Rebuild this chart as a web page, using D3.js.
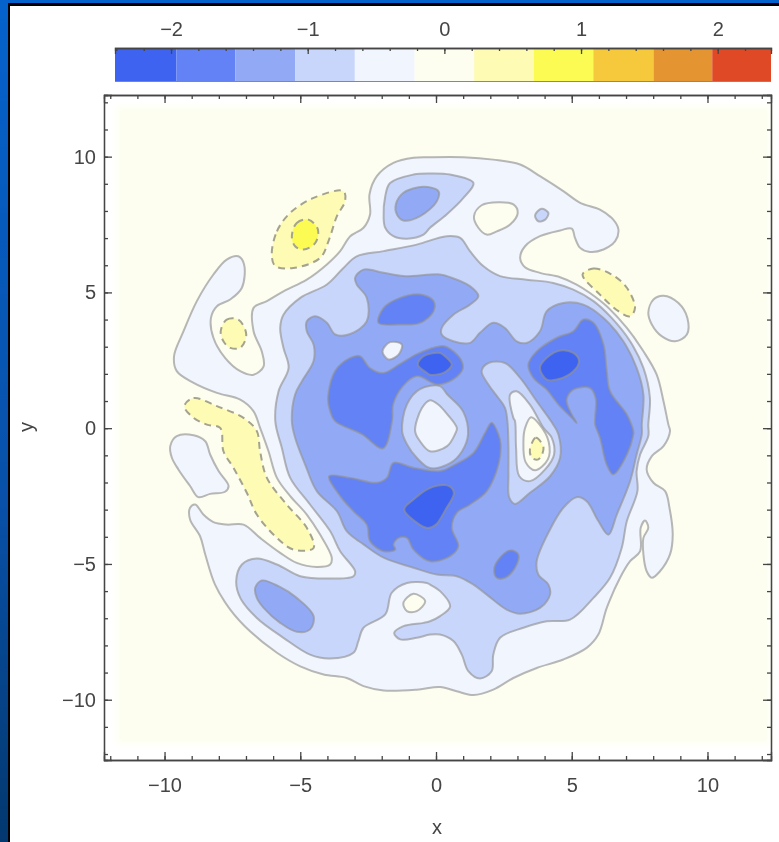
<!DOCTYPE html>
<meta charset="utf-8">
<style>
body { margin: 0; background: #fff; }
svg { display: block; }
text { font-family: "Liberation Sans", sans-serif; fill: #444; }
.axis path { stroke: #444; stroke-width: 1.3; }
.axis line { stroke: #444; stroke-width: 1.3; }
.axis text { font-size: 20px; }
</style>
<svg width="779" height="842"></svg>
<script src="https://d3js.org/d3.v7.min.js"></script>
<script>

// colour bar
var barThresholds = [-1.96, -1.53, -1.09, -0.655, -0.218, 0.218, 0.655, 1.09, 1.53, 1.96];
var barColors = ["#3e64f0", "#6282f6", "#92aaf6", "#c8d6fb", "#f1f5fe", "#fdfef0", "#fdfbb4", "#fbfb52", "#f6c93c", "#e59432", "#e04a28"];
var barTicks = [-2, -1, 0, 1, 2];
var barMinorTicks = d3.range(-24, 24, 2).map(function(d) { return d / 10; });
var plotTicks = [-10, -5, 0, 5, 10];
var plotMinorTicks = d3.range(-12, 13);

// contour outlines in x,y units
var outerBand = [[-0.22,9.98],[1.01,9.98],[2.11,9.89],[3.10,9.71],[3.83,9.28],[4.69,8.73],[5.31,8.30],[6.04,8.05],[6.53,7.68],[6.72,7.32],[6.60,6.89],[6.17,6.58],[5.67,6.49],[5.31,6.64],[5.12,7.01],[5.00,7.35],[4.57,7.28],[3.83,7.07],[3.28,6.70],[3.10,6.27],[3.28,5.93],[3.83,5.72],[4.57,5.56],[5.18,5.29],[5.67,4.98],[6.29,4.49],[7.03,3.69],[7.64,2.83],[8.13,1.97],[8.38,0.99],[8.56,0.13],[8.62,-0.11],[8.38,-0.66],[7.95,-1.03],[7.76,-1.52],[8.01,-2.01],[8.44,-2.32],[8.60,-2.93],[8.72,-3.92],[8.62,-4.65],[8.25,-5.27],[7.95,-5.51],[7.76,-5.27],[7.64,-4.65],[7.64,-4.04],[7.82,-3.67],[7.70,-3.40],[7.54,-3.67],[7.52,-4.53],[7.15,-4.90],[6.78,-5.51],[6.29,-6.62],[5.98,-7.60],[5.55,-8.09],[4.69,-8.52],[3.71,-8.83],[2.85,-9.20],[2.11,-9.63],[1.38,-9.83],[0.76,-9.69],[0.15,-9.53],[-0.71,-9.63],[-1.93,-9.66],[-2.67,-9.50],[-3.29,-9.20],[-4.14,-9.07],[-5.00,-8.77],[-5.86,-8.27],[-6.85,-7.48],[-7.58,-6.68],[-8.14,-5.76],[-8.50,-4.65],[-8.69,-3.98],[-9.06,-3.36],[-9.06,-2.93],[-8.87,-2.81],[-8.57,-3.18],[-8.20,-3.46],[-7.71,-3.55],[-7.09,-3.55],[-6.48,-4.04],[-5.74,-4.59],[-5.13,-4.96],[-4.39,-5.11],[-3.90,-5.02],[-3.84,-4.77],[-4.27,-3.92],[-4.76,-3.18],[-5.37,-2.50],[-5.86,-1.83],[-6.17,-0.85],[-6.48,0.01],[-6.72,0.62],[-7.21,1.05],[-8.07,1.30],[-8.93,1.67],[-9.55,2.10],[-9.65,2.65],[-9.30,3.57],[-8.81,4.68],[-8.20,5.66],[-7.71,6.21],[-7.28,6.33],[-7.07,6.03],[-7.15,5.17],[-7.58,4.74],[-8.07,4.49],[-8.29,4.06],[-8.20,3.33],[-7.77,2.59],[-7.21,2.10],[-6.72,1.97],[-6.35,2.28],[-6.42,2.83],[-6.72,3.57],[-6.72,4.43],[-6.23,4.68],[-5.62,5.04],[-4.76,5.47],[-4.02,6.03],[-3.53,6.52],[-3.16,7.07],[-2.67,7.38],[-2.43,7.87],[-2.45,8.61],[-2.18,9.28],[-1.57,9.77],[-0.83,9.96]];
var leftIsland = [[-9.79,-0.66],[-9.55,-0.29],[-8.93,-0.26],[-8.50,-0.48],[-8.32,-0.97],[-8.01,-1.58],[-7.64,-2.13],[-7.77,-2.34],[-8.32,-2.42],[-8.75,-2.54],[-9.06,-2.13],[-9.49,-1.52],[-9.73,-1.09]];
var rightIsland = [[7.82,4.25],[8.01,4.74],[8.38,4.88],[8.93,4.61],[9.26,4.06],[9.24,3.45],[8.81,3.20],[8.31,3.39],[7.95,3.82]];
var topHole = [[1.40,7.81],[1.68,8.21],[2.30,8.32],[2.85,8.24],[3.01,7.93],[2.73,7.50],[2.24,7.25],[1.87,7.13],[1.56,7.38]];
var topDot = [[3.65,7.84],[3.89,8.08],[4.14,7.93],[4.02,7.68],[3.77,7.62]];
var topLobeOuter = [[-1.93,7.75],[-1.87,8.54],[-1.69,9.03],[-0.83,9.34],[-0.22,9.38],[0.52,9.34],[1.38,9.03],[1.01,8.48],[0.39,7.87],[-0.22,7.38],[-0.46,7.13],[-1.07,6.98],[-1.57,7.07],[-1.87,7.38]];
var topLobeInner = [[-1.48,8.24],[-1.20,8.67],[-0.46,8.89],[0.09,8.73],[0.03,8.36],[-0.58,7.81],[-1.20,7.65],[-1.44,7.87]];
var mainOuter = [[-0.71,6.76],[0.39,7.07],[0.89,7.01],[1.25,6.52],[1.74,5.97],[2.36,5.60],[3.34,5.47],[4.32,5.35],[5.06,5.10],[5.80,4.68],[6.47,4.06],[7.15,3.20],[7.64,2.22],[7.88,1.11],[7.82,0.13],[7.82,-0.29],[7.52,-0.97],[7.39,-1.58],[7.42,-2.32],[7.03,-3.42],[6.84,-4.41],[6.41,-5.51],[5.80,-6.25],[4.94,-7.05],[4.08,-7.11],[3.22,-7.35],[2.36,-7.72],[2.11,-8.34],[2.05,-8.95],[1.62,-9.22],[1.19,-8.95],[0.95,-8.34],[0.64,-7.84],[0.15,-7.60],[-0.22,-7.60],[-0.71,-7.72],[-1.32,-7.78],[-1.54,-7.54],[-1.20,-7.29],[-0.46,-7.17],[-0.22,-7.11],[0.15,-6.92],[0.52,-6.56],[0.15,-6.00],[-0.22,-5.76],[-0.34,-5.70],[-1.07,-5.70],[-1.63,-6.06],[-1.87,-6.86],[-2.67,-7.35],[-2.86,-7.84],[-3.04,-8.27],[-3.90,-8.48],[-4.64,-8.34],[-5.62,-7.72],[-6.60,-6.99],[-7.21,-6.25],[-7.36,-5.63],[-7.15,-5.02],[-6.60,-4.80],[-5.86,-5.02],[-5.00,-5.45],[-4.02,-5.54],[-3.04,-5.45],[-2.98,-5.27],[-3.53,-4.53],[-3.90,-3.79],[-4.64,-2.81],[-5.37,-1.83],[-5.68,-0.72],[-5.92,0.26],[-5.80,1.36],[-5.43,2.22],[-5.62,2.96],[-5.74,3.69],[-5.62,4.18],[-5.00,4.80],[-4.02,5.29],[-3.41,5.90],[-2.92,6.33],[-1.93,6.52]];
var lowerLobe = [[-6.66,-5.88],[-6.42,-5.61],[-5.80,-5.82],[-5.13,-6.25],[-4.51,-6.92],[-4.64,-7.41],[-5.13,-7.50],[-5.74,-7.17],[-6.35,-6.62],[-6.60,-6.25]];
var mainMiddle = [[-2.98,5.54],[-2.67,5.84],[-1.93,5.72],[-1.20,5.60],[0.15,5.66],[0.52,5.56],[1.25,5.23],[1.56,4.86],[1.25,4.55],[0.64,4.18],[0.21,3.69],[0.21,3.45],[0.64,3.20],[1.25,3.14],[1.62,3.51],[2.11,3.88],[2.54,3.69],[2.97,3.20],[3.34,3.14],[3.83,3.57],[4.08,4.31],[4.69,4.61],[5.43,4.55],[6.17,4.06],[6.90,3.20],[7.39,2.22],[7.64,1.24],[7.58,0.13],[7.58,-0.23],[7.39,-0.97],[7.15,-1.95],[6.66,-3.18],[6.35,-3.92],[5.98,-3.42],[5.55,-2.69],[5.18,-2.54],[4.69,-2.93],[4.20,-3.73],[3.71,-4.90],[3.77,-5.39],[4.14,-5.76],[4.20,-6.13],[3.83,-6.62],[3.10,-6.83],[2.60,-6.68],[1.87,-6.13],[1.38,-5.76],[0.76,-5.45],[0.03,-5.39],[-0.83,-5.14],[-1.93,-4.77],[-2.67,-4.28],[-3.29,-3.79],[-3.65,-3.06],[-4.39,-2.32],[-4.82,-1.34],[-5.19,-0.35],[-5.31,0.26],[-5.19,1.24],[-4.94,1.73],[-4.51,2.47],[-4.51,3.08],[-4.76,3.57],[-4.76,3.94],[-4.45,4.12],[-4.02,3.88],[-3.71,3.45],[-3.16,3.47],[-2.55,3.94],[-2.55,4.80],[-2.92,5.29]];
var upperBand = [[-2.12,3.88],[-1.93,4.43],[-1.32,4.80],[-0.58,4.92],[-0.09,4.68],[-0.09,4.31],[-0.58,3.88],[-1.32,3.82]];
var leftBlock = [[-3.98,1.10],[-3.72,2.10],[-3.17,2.58],[-2.80,2.65],[-2.43,2.21],[-1.95,2.03],[-1.33,2.36],[-0.70,2.73],[0.15,3.02],[0.41,2.98],[0.88,2.58],[0.99,2.21],[0.63,1.80],[0.04,1.62],[-0.70,1.92],[-1.22,1.55],[-1.58,0.88],[-1.62,0.26],[-1.95,-0.74],[-2.73,-0.22],[-3.72,0.26],[-3.90,0.63]];
var lowerBlock = [[-3.94,-1.77],[-3.16,-1.83],[-2.18,-2.01],[-1.81,-1.83],[-1.57,-1.28],[-0.83,-1.46],[0.15,-1.58],[0.70,-1.34],[1.38,-0.91],[1.81,-0.17],[2.05,0.20],[2.30,-0.23],[2.38,-0.60],[2.30,-1.34],[1.87,-2.32],[1.25,-2.81],[0.76,-3.12],[0.58,-3.67],[0.82,-4.35],[0.52,-4.71],[-0.22,-4.90],[-0.83,-4.47],[-1.07,-4.04],[-1.38,-4.04],[-1.57,-4.28],[-1.50,-4.47],[-1.93,-4.53],[-2.43,-4.16],[-2.55,-3.55],[-3.04,-3.06],[-3.53,-2.50]];
var rightBlock = [[3.40,2.34],[3.71,2.83],[4.45,3.33],[5.06,3.57],[5.43,4.00],[5.80,3.88],[6.17,3.08],[6.29,2.10],[6.41,1.36],[7.03,0.50],[7.27,-0.11],[7.27,-0.23],[7.03,-0.97],[6.53,-1.70],[6.29,-1.34],[6.04,-0.35],[5.86,0.14],[5.86,0.38],[5.88,1.11],[5.67,1.48],[5.06,1.42],[4.81,1.05],[4.94,0.62],[5.18,0.19],[5.00,0.38],[4.51,0.87],[4.08,1.42],[3.59,1.85]];
var smallBlock = [[2.14,-5.20],[2.30,-4.84],[2.73,-4.50],[3.03,-4.65],[2.91,-5.14],[2.54,-5.51],[2.24,-5.51]];
var deepCentre = [[-0.67,2.34],[-0.46,2.65],[0.15,2.77],[0.33,2.65],[0.58,2.34],[0.27,2.04],[-0.22,1.97],[-0.34,2.04]];
var deepRight = [[3.83,2.22],[4.08,2.59],[4.57,2.86],[5.06,2.77],[5.27,2.47],[5.06,2.10],[4.45,1.79],[4.08,1.79]];
var deepLower = [[-1.17,-2.99],[-0.83,-2.63],[-0.34,-2.26],[0.15,-2.10],[0.52,-2.15],[0.66,-2.40],[0.35,-3.00],[0.00,-3.55],[-0.30,-3.68],[-0.75,-3.45]];
var paleEllipse = [[-1.97,2.83],[-1.69,3.17],[-1.26,3.08],[-1.38,2.71],[-1.75,2.53]];
var ringOuter = [[-1.25,-0.11],[-1.07,0.88],[-0.59,1.44],[0.15,1.55],[0.41,1.25],[0.99,0.63],[1.18,-0.22],[0.96,-0.85],[0.52,-1.29],[-0.22,-1.47],[-0.70,-1.10],[-1.07,-0.59]];
var ringInner = [[-0.77,-0.11],[-0.52,0.74],[-0.22,1.03],[0.07,0.88],[0.41,0.52],[0.77,0],[0.70,-0.22],[0.41,-0.66],[-0.22,-0.85],[-0.59,-0.48]];
var crescentOuter = [[1.68,2.10],[1.93,2.40],[2.54,2.40],[3.10,1.85],[3.71,0.99],[4.32,0.13],[4.51,-0.23],[4.57,-1.09],[4.20,-1.77],[3.46,-2.38],[2.91,-2.79],[2.70,-2.56],[2.67,-1.70],[2.67,-0.72],[2.63,0.26],[2.54,0.75],[2.30,1.11],[1.93,1.61]];
var crescentMiddle = [[2.73,1.24],[2.97,1.36],[3.46,0.87],[3.96,0.01],[4.26,-0.35],[4.35,-0.97],[4.02,-1.52],[3.46,-1.95],[3.07,-1.77],[2.95,-0.72],[2.91,0.26],[2.85,0.38]];
var crescentInner = [[3.22,-0.48],[3.28,0.00],[3.50,0.40],[3.80,0.15],[4.15,-0.50],[4.12,-1.15],[3.65,-1.55],[3.30,-1.25]];
var crescentCore = [[3.46,-0.78],[3.68,-0.35],[3.96,-0.72],[3.77,-1.15],[3.53,-1.09]];
var bottomDot = [[-1.20,-6.43],[-0.83,-6.10],[-0.40,-6.37],[-0.71,-6.74],[-1.07,-6.74]];
var yellowTop = [[-6.05,6.39],[-5.86,7.25],[-5.37,7.93],[-4.51,8.48],[-3.41,8.73],[-3.35,8.36],[-3.65,7.81],[-3.96,6.89],[-4.27,6.27],[-5.25,5.90],[-5.92,5.97]];
var yellowTopCore = [[-5.31,7.07],[-5.13,7.56],[-4.70,7.68],[-4.35,7.32],[-4.45,6.82],[-4.88,6.58],[-5.19,6.70]];
var yellowLeft = [[-7.93,3.57],[-7.71,4.00],[-7.28,4.00],[-6.99,3.45],[-7.21,2.96],[-7.58,2.96],[-7.83,3.20]];
var yellowRight = [[5.40,5.66],[5.80,5.88],[6.47,5.66],[7.03,5.17],[7.33,4.43],[7.15,4.12],[6.72,4.31],[6.04,4.92]];
var yellowLong = [[-9.27,0.81],[-8.93,1.11],[-8.07,0.81],[-7.09,0.38],[-6.60,-0.11],[-6.48,-0.85],[-6.23,-1.83],[-5.50,-2.81],[-4.76,-3.67],[-4.51,-4.41],[-5.25,-4.47],[-5.86,-4.04],[-6.60,-3.18],[-6.97,-2.38],[-7.46,-1.46],[-7.83,-0.85],[-7.95,0.01],[-8.44,0.13],[-8.93,0.38]];

// drawing order, each outline with the value of its band
var layers = [
  [outerBand, -0.4], [leftIsland, -0.4], [rightIsland, -0.4],
  [topHole, 0], [topDot, -0.9], [topLobeOuter, -0.9], [topLobeInner, -1.3],
  [mainOuter, -0.9], [lowerLobe, -1.3], [mainMiddle, -1.3],
  [upperBand, -1.75], [leftBlock, -1.75], [lowerBlock, -1.75], [rightBlock, -1.75], [smallBlock, -1.75],
  [deepCentre, -2.2], [deepRight, -2.2], [deepLower, -2.2],
  [paleEllipse, -0.6],
  [ringOuter, -0.9], [ringInner, -0.4],
  [crescentOuter, -0.9], [crescentMiddle, -0.4], [crescentInner, 0], [crescentCore, 0.4],
  [bottomDot, 0],
  [yellowTop, 0.4], [yellowTopCore, 0.9], [yellowLeft, 0.4], [yellowRight, 0.4], [yellowLong, 0.4]
];

var svg = d3.select("svg");
var defs = svg.append("defs");

var grad = defs.append("linearGradient").attr("id", "edge").attr("x1", 0).attr("x2", 0).attr("y1", 0).attr("y2", 1);
grad.append("stop").attr("offset", "0%").attr("stop-color", "#0562cc");
grad.append("stop").attr("offset", "60%").attr("stop-color", "#0850a8");
grad.append("stop").attr("offset", "100%").attr("stop-color", "#03386f");

defs.append("filter").attr("id", "soft").append("feGaussianBlur").attr("stdDeviation", 0.7);
defs.append("filter").attr("id", "softer").append("feGaussianBlur").attr("stdDeviation", 3);

// slide edge
svg.append("rect").attr("x", 0).attr("y", 0).attr("width", 779).attr("height", 3).attr("fill", "#0562cc");
svg.append("rect").attr("x", 0).attr("y", 0).attr("width", 8).attr("height", 842).attr("fill", "url(#edge)");
svg.append("rect").attr("x", 8).attr("y", 3).attr("width", 771).attr("height", 3).attr("fill", "#000");
svg.append("rect").attr("x", 8).attr("y", 3).attr("width", 2).attr("height", 839).attr("fill", "#000");

var chart = svg.append("g").attr("filter", "url(#soft)");

// scales
var x = d3.scaleLinear().domain([-12.23, 12.34]).range([104, 771]);
var y = d3.scaleLinear().domain([-12.22, 12.27]).range([760, 95]);
var bar = d3.scaleLinear().domain([-2.41, 2.39]).range([115, 771]);
var color = d3.scaleThreshold().domain(barThresholds).range(barColors);

// plot background
chart.append("rect")
    .attr("x", 117).attr("y", 106)
    .attr("width", 653).attr("height", 638)
    .attr("fill", color(0))
    .attr("filter", "url(#softer)");

// contours
var line = d3.line()
    .x(function(d) { return x(d[0]); })
    .y(function(d) { return y(d[1]); })
    .curve(d3.curveCatmullRomClosed.alpha(0.5));

chart.append("g")
    .attr("class", "contours")
  .selectAll("path")
  .data(layers)
  .enter().append("path")
    .attr("d", function(d) { return line(d[0]); })
    .attr("fill", function(d) { return color(d[1]); })
    .attr("stroke", function(d) { return d[1] > 0 ? "#a3a38e" : "#929292"; })
    .attr("stroke-opacity", function(d) { return d[1] > 0 ? 1 : 0.65; })
    .attr("stroke-width", 2)
    .attr("stroke-dasharray", function(d) { return d[1] > 0 ? "7,5" : null; });

// frame axes, ticks point inward
function noLabel() { return ""; }
function minus(d) { return String(d).replace("-", "\u2212"); }

function addAxis(maker, scale, tx, ty, format, padding) {
  var g = chart.append("g")
      .attr("class", "axis")
      .attr("transform", "translate(" + tx + "," + ty + ")");
  g.append("g").call(maker(scale).tickValues(plotMinorTicks).tickSize(-4).tickFormat(noLabel));
  g.append("g").call(maker(scale).tickValues(plotTicks).tickSize(-8).tickPadding(padding).tickFormat(format));
}

addAxis(d3.axisBottom, x, 0, 760, minus, 18);
addAxis(d3.axisLeft, y, 104, 0, minus, 8);
addAxis(d3.axisTop, x, 0, 95, noLabel, 0);
addAxis(d3.axisRight, y, 771, 0, noLabel, 0);

chart.selectAll(".axis text").attr("fill", "#444");

// colour bar cells
var barEdges = [bar.domain()[0]].concat(barThresholds, [bar.domain()[1]]);
chart.append("g")
  .selectAll("rect")
  .data(barColors)
  .enter().append("rect")
    .attr("x", function(d, i) { return bar(barEdges[i]); })
    .attr("y", 48)
    .attr("width", function(d, i) { return bar(barEdges[i + 1]) - bar(barEdges[i]); })
    .attr("height", 33)
    .attr("fill", function(d) { return d; });

chart.append("line")
    .attr("x1", 115).attr("x2", 771).attr("y1", 81.5).attr("y2", 81.5)
    .attr("stroke", "#888").attr("stroke-width", 1.2);

var barAxisMinor = d3.axisTop(bar).tickValues(barMinorTicks).tickSize(-3).tickFormat(noLabel);
var barAxisMajor = d3.axisTop(bar).tickValues(barTicks).tickSize(-6).tickPadding(12).tickFormat(minus);
chart.append("g").attr("class", "axis").attr("transform", "translate(0,48)").call(barAxisMinor);
chart.append("g").attr("class", "axis").attr("transform", "translate(0,48)").call(barAxisMajor);

// axis titles
chart.append("text")
    .attr("x", 437).attr("y", 834)
    .attr("text-anchor", "middle")
    .attr("font-size", 20)
    .text("x");
chart.append("text")
    .attr("transform", "translate(33,427) rotate(-90)")
    .attr("text-anchor", "middle")
    .attr("font-size", 20)
    .text("y");

</script>
